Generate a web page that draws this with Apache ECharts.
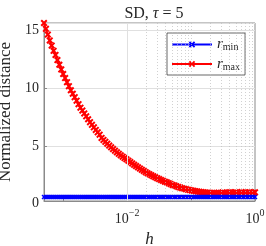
<!DOCTYPE html>
<html>
<head>
<meta charset="utf-8">
<script src="https://cdn.jsdelivr.net/npm/echarts@6/dist/echarts.min.js"></script>
<style>html,body{margin:0;padding:0;background:#fff}#c{width:266px;height:246px}</style>
</head>
<body>
<div id="c"></div>
<script>
// step sizes h (log-spaced)
var h = [
  0.0005012, 0.0005370, 0.0005754, 0.0006166, 0.0006607, 0.0007079, 0.0007586, 0.0008128, 0.0008710, 0.0009333,
  0.001000, 0.001072, 0.001148, 0.001230, 0.001318, 0.001413, 0.001514, 0.001622, 0.001738, 0.001862,
  0.001995, 0.002138, 0.002291, 0.002455, 0.002630, 0.002818, 0.003020, 0.003236, 0.003467, 0.003715,
  0.003981, 0.004266, 0.004571, 0.004898, 0.005248, 0.005623, 0.006026, 0.006457, 0.006918, 0.007413,
  0.007943, 0.008511, 0.009120, 0.009772, 0.01047, 0.01122, 0.01202, 0.01288, 0.01380, 0.01479,
  0.01585, 0.01698, 0.01820, 0.01950, 0.02089, 0.02239, 0.02399, 0.02570, 0.02754, 0.02951,
  0.03162, 0.03388, 0.03631, 0.03890, 0.04169, 0.04467, 0.04786, 0.05129, 0.05495, 0.05888,
  0.06310, 0.06761, 0.07244, 0.07762, 0.08318, 0.08913, 0.09550, 0.1023, 0.1096, 0.1175,
  0.1259, 0.1349, 0.1445, 0.1549, 0.1660, 0.1778, 0.1905, 0.2042, 0.2188, 0.2344,
  0.2512, 0.2692, 0.2884, 0.3090, 0.3311, 0.3548, 0.3802, 0.4074, 0.4365, 0.4677,
  0.5012, 0.5370, 0.5754, 0.6166, 0.6607, 0.7079, 0.7586, 0.8128, 0.8710, 0.9333,
  1.0
];
var rMax = [
  15.6, 15.1, 14.6, 14.1, 13.65, 13.2, 12.85, 12.4, 12.0, 11.6,
  11.2, 10.85, 10.5, 10.15, 9.8, 9.5, 9.2, 8.9, 8.6, 8.3,
  8.05, 7.8, 7.55, 7.3, 7.05, 6.82, 6.6, 6.38, 6.17, 5.97,
  5.69, 5.52, 5.35, 5.19, 5.03, 4.88, 4.73, 4.59, 4.45, 4.32,
  4.19, 4.07, 3.95, 3.84, 3.73, 3.61, 3.49, 3.37, 3.26, 3.15,
  3.05, 2.94, 2.84, 2.74, 2.64, 2.55, 2.46, 2.38, 2.30, 2.22,
  2.14, 2.06, 1.99, 1.92, 1.86, 1.79, 1.71, 1.64, 1.58, 1.52,
  1.46, 1.41, 1.36, 1.31, 1.27, 1.23, 1.19, 1.16, 1.13, 1.10,
  1.07, 1.04, 1.02, 1.00, 0.98, 0.97, 0.96, 0.95, 0.94, 0.95,
  0.93, 0.97, 0.94, 0.99, 0.95, 0.93, 0.98, 1.01, 0.96, 0.94,
  1.00, 0.97, 0.95, 1.02, 0.97, 0.99, 0.95, 1.01, 0.98, 0.96,
  1.00
];
var rMin = [
  0.6, 0.6, 0.6, 0.6, 0.6, 0.6, 0.6, 0.6, 0.6, 0.6,
  0.6, 0.6, 0.6, 0.6, 0.6, 0.6, 0.6, 0.6, 0.6, 0.6,
  0.6, 0.6, 0.6, 0.6, 0.6, 0.6, 0.6, 0.6, 0.6, 0.6,
  0.6, 0.6, 0.6, 0.6, 0.6, 0.6, 0.6, 0.6, 0.6, 0.6,
  0.6, 0.6, 0.6, 0.6, 0.6, 0.6, 0.6, 0.6, 0.6, 0.6,
  0.6, 0.6, 0.6, 0.6, 0.6, 0.6, 0.6, 0.6, 0.6, 0.6,
  0.6, 0.6, 0.6, 0.6, 0.6, 0.6, 0.6, 0.6, 0.6, 0.6,
  0.6, 0.6, 0.6, 0.6, 0.6, 0.6, 0.6, 0.6, 0.6, 0.6,
  0.6, 0.6, 0.6, 0.6, 0.6, 0.6, 0.6, 0.6, 0.6, 0.6,
  0.6, 0.6, 0.6, 0.6, 0.6, 0.6, 0.6, 0.6, 0.6, 0.6,
  0.6, 0.6, 0.6, 0.6, 0.6, 0.6, 0.6, 0.6, 0.6, 0.6,
  0.6
];
// grid tick values for the x axis
var xMajorGrid = [0.01];
var xMinorGrid = [0.0006, 0.0007, 0.0008, 0.0009, 0.001,
  0.002, 0.003, 0.004, 0.005, 0.006, 0.007, 0.008, 0.009,
  0.02, 0.03, 0.04, 0.05, 0.06, 0.07, 0.08, 0.09,
  0.1, 0.2, 0.3, 0.4, 0.5, 0.6, 0.7, 0.8, 0.9];
var yTickLabels = ['0', '5', '10', '15'];

var serif = '"Liberation Serif", "DejaVu Serif", serif';
var txt = '#262626';
var X_PATH = 'path://M0,2L2,0L5,3L8,0L10,2L7,5L10,8L8,10L5,7L2,10L0,8L3,5Z';

function pairs(xs, ys) { var out = []; for (var i = 0; i < xs.length; i++) out.push([xs[i], ys[i]]); return out; }

var chart = echarts.init(document.getElementById('c'), null, {renderer: 'canvas'});
var gridLines = [];
xMinorGrid.forEach(function (v) {
  gridLines.push({xAxis: v, lineStyle: {color: '#bdbdbd', width: 0.7, type: [1, 2]}});
});
xMajorGrid.forEach(function (v) {
  gridLines.push({xAxis: v, lineStyle: {color: '#e0e0e0', width: 1, type: 'solid'}});
});

chart.setOption({
  animation: false,
  title: {
    text: '{r|SD, }{i|τ}{r| = 5}',
    left: 149, top: 1, textAlign: 'center',
    textStyle: {
      fontWeight: 'normal',
      rich: {
        r: {fontFamily: serif, fontSize: 16, fontWeight: 'normal', color: txt},
        i: {fontFamily: serif, fontSize: 16, fontWeight: 'normal', fontStyle: 'italic', color: txt}
      }
    }
  },
  grid: {left: 44, right: 11, top: 23, bottom: 45, show: true, borderColor: '#8a8a8a', borderWidth: 1,
         backgroundColor: '#fff', containLabel: false, outerBoundsMode: 'none'},
  legend: {
    orient: 'vertical', left: 167, top: 33,
    itemWidth: 40, itemHeight: 8, itemGap: 4,
    padding: [4, 5, 3, 4],
    borderColor: '#262626', borderWidth: 0.7, backgroundColor: '#fff',
    data: ['rmin', 'rmax'],
    formatter: function (n) { return n === 'rmin' ? '{i|r}{s|min}' : '{i|r}{s|max}'; },
    textStyle: {
      color: txt,
      rich: {
        i: {fontFamily: serif, fontStyle: 'italic', fontSize: 15, color: txt},
        s: {fontFamily: serif, fontSize: 10, color: txt, padding: [6, 0, 0, 0]}
      }
    }
  },
  xAxis: {
    type: 'log', logBase: 10, min: h[0], max: 1,
    axisLine: {show: true, onZero: false, lineStyle: {color: '#8a8a8a', width: 1}},
    axisTick: {show: true, inside: true, length: 3, lineStyle: {color: '#8a8a8a'}},
    splitLine: {show: false},
    axisLabel: {
      margin: 5, showMinLabel: false,
      formatter: function (v) {
        var e = Math.round(Math.log10(v) * 1000) / 1000;
        if (e === -2) return '{b|10}{s|−2}';
        if (e === 0) return '{b|10}{s|0}';
        return '';
      },
      rich: {
        b: {fontFamily: serif, fontSize: 14, color: txt, padding: [6, 0, 0, 0]},
        s: {fontFamily: serif, fontSize: 10, color: txt, padding: [0, 0, 6, 0]}
      }
    },
    name: 'h', nameLocation: 'middle', nameGap: 26,
    nameTextStyle: {fontFamily: serif, fontStyle: 'italic', fontSize: 17, color: txt}
  },
  yAxis: {
    type: 'value', min: 0.25, max: 15.6, splitNumber: 3,
    axisLine: {show: true, lineStyle: {color: '#8a8a8a', width: 1}},
    axisTick: {show: true, inside: true, length: 3, lineStyle: {color: '#8a8a8a'}},
    splitLine: {show: true, lineStyle: {color: '#e0e0e0', width: 1}},
    axisLabel: {
      margin: 5, showMaxLabel: false,
      formatter: function (v) {
        if (v < 1) return '{z|' + yTickLabels[0] + '}';
        var idx = Math.round(v / 5);
        return v > 15.5 ? '' : '{n|' + yTickLabels[idx] + '}';
      },
      rich: {
        n: {fontFamily: serif, fontSize: 14, color: txt},
        z: {fontFamily: serif, fontSize: 14, color: txt, padding: [5, 0, 0, 0]}
      }
    },
    name: 'Normalized distance', nameLocation: 'middle', nameGap: 25, nameRotate: 90,
    nameTextStyle: {fontFamily: serif, fontSize: 17, color: txt}
  },
  series: [
    {
      name: 'grid', type: 'line', z: 1, data: [[1, 0.25]], showSymbol: false, symbol: 'none',
      lineStyle: {opacity: 0}, silent: true,
      markLine: {silent: true, symbol: ['none', 'none'], label: {show: false}, animation: false, data: gridLines}
    },
    {
      name: 'rmax', type: 'line', z: 3, data: pairs(h, rMax),
      symbol: X_PATH, symbolSize: 7, showAllSymbol: true,
      lineStyle: {color: '#ff0000', width: 1.5},
      itemStyle: {color: '#ff0000'}
    },
    {
      name: 'rmin', type: 'line', z: 4, data: pairs(h, rMin),
      symbol: X_PATH, symbolSize: 5, showAllSymbol: true,
      lineStyle: {color: '#0000ff', width: 1.5},
      itemStyle: {color: '#0000ff'}
    }
  ]
});
</script>
</body>
</html>
